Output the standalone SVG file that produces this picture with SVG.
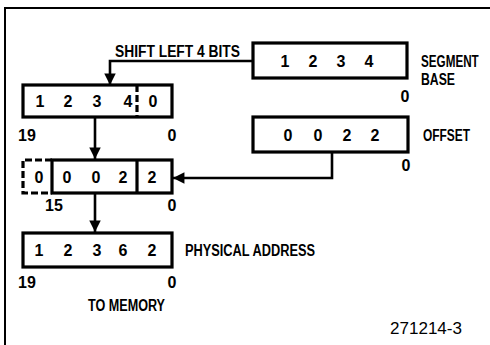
<svg xmlns="http://www.w3.org/2000/svg" width="490" height="345" viewBox="0 0 490 345">
<defs>
<style>
.box{fill:none;stroke:#000;stroke-width:3.2}
.dash{fill:none;stroke:#000;stroke-width:3.2;stroke-dasharray:7 3}
.ln{fill:none;stroke:#000;stroke-width:2.6}
.t{font-family:"Liberation Sans",Arial,sans-serif;font-weight:bold;font-size:16px;fill:#000}
.c{text-anchor:middle}
.n{font-weight:normal}
</style>
<marker id="ah" viewBox="0 0 10 10" refX="10" refY="5" markerWidth="4.6" markerHeight="4.4" markerUnits="strokeWidth" orient="auto">
<path d="M0,0 L10,5 L0,10 z" fill="#000"/>
</marker>
</defs>
<rect width="490" height="345" fill="#fff"/>
<path d="M5,345 V8 H490" fill="none" stroke="#000" stroke-width="2"/>

<g id="connectors">
<path class="ln" d="M253,61 H110 V85" marker-end="url(#ah)"/>
<path class="ln" d="M95,117 V159" marker-end="url(#ah)"/>
<path class="ln" d="M332,152 V178 H173" marker-end="url(#ah)"/>
<path class="ln" d="M95,193 V232" marker-end="url(#ah)"/>
<text class="t" x="115" y="57" textLength="125" lengthAdjust="spacingAndGlyphs">SHIFT LEFT 4 BITS</text>
</g>

<g id="segment">
<rect class="box" x="253" y="43" width="154" height="35"/>
<text class="t c" x="285" y="67">1</text>
<text class="t c" x="313" y="67">2</text>
<text class="t c" x="341" y="67">3</text>
<text class="t c" x="369" y="67">4</text>
<text class="t" transform="translate(421,67) scale(0.73,1)">SEGMENT</text>
<text class="t" x="421" y="85" textLength="34" lengthAdjust="spacingAndGlyphs">BASE</text>
<text class="t c" x="405" y="102">0</text>
</g>

<g id="shifted">
<rect class="box" x="23" y="85" width="149" height="32"/>
<line class="dash" x1="137" y1="85" x2="137" y2="117"/>
<text class="t c" x="40" y="107">1</text>
<text class="t c" x="68" y="107">2</text>
<text class="t c" x="97" y="107">3</text>
<text class="t c" x="128" y="107">4</text>
<text class="t c" x="153" y="107">0</text>
<text class="t c" x="27" y="141">19</text>
<text class="t c" x="172" y="141">0</text>
</g>

<g id="offset">
<rect class="box" x="253" y="117" width="155" height="35"/>
<text class="t c" x="288" y="141">0</text>
<text class="t c" x="318" y="141">0</text>
<text class="t c" x="347" y="141">2</text>
<text class="t c" x="375" y="141">2</text>
<text class="t" x="423" y="141" textLength="47" lengthAdjust="spacingAndGlyphs">OFFSET</text>
<text class="t c" x="406" y="171">0</text>
</g>

<g id="offset-reg">
<path class="dash" d="M52,160 H23 V193 H52"/>
<rect class="box" x="52" y="160" width="120" height="33"/>
<line class="box" x1="137" y1="160" x2="137" y2="193"/>
<text class="t c" x="39" y="183">0</text>
<text class="t c" x="67" y="183">0</text>
<text class="t c" x="96" y="183">0</text>
<text class="t c" x="123" y="183">2</text>
<text class="t c" x="152" y="183">2</text>
<text class="t c" x="54" y="211">15</text>
<text class="t c" x="172" y="211">0</text>
</g>

<g id="physical">
<rect class="box" x="23" y="233" width="149" height="34"/>
<text class="t c" x="39" y="256">1</text>
<text class="t c" x="68" y="256">2</text>
<text class="t c" x="97" y="256">3</text>
<text class="t c" x="123" y="256">6</text>
<text class="t c" x="152" y="256">2</text>
<text class="t" x="185" y="256" textLength="130" lengthAdjust="spacingAndGlyphs">PHYSICAL ADDRESS</text>
<text class="t c" x="27" y="288">19</text>
<text class="t c" x="172" y="288">0</text>
<text class="t" x="88" y="311" textLength="77" lengthAdjust="spacingAndGlyphs">TO MEMORY</text>
</g>

<text class="t n" x="390" y="334" textLength="72" lengthAdjust="spacingAndGlyphs">271214-3</text>
</svg>
